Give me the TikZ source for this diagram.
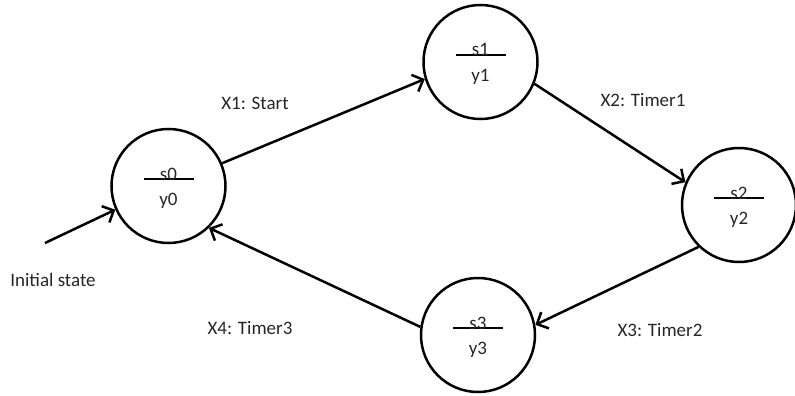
\documentclass[tikz,border=0pt]{standalone}
\usepackage{fontspec}
\setmainfont{Carlito}
\usetikzlibrary{arrows.meta}
\begin{document}
\begin{tikzpicture}[x=1pt,y=1pt,
    every node/.style={font=\fontsize{19}{23}\selectfont,text=black!85},
    state/.style={draw=black,circle,line width=2.5pt,minimum size=114pt,inner sep=0pt},
    trans/.style={line width=2.5pt,-{Straight Barb[length=9pt,width=18pt,line width=2.5pt]}}]
    \useasboundingbox (0,0) rectangle (795,-396);

    \node[state] (s0) at (168.5,-186) {};
    \node[state] (s1) at (480.5,-62) {};
    \node[state] (s2) at (739,-205) {};
    \node[state] (s3) at (478,-335) {};

    % output line and labels inside each state
    \foreach \s/\y in {s0/y0,s1/y1,s2/y2,s3/y3} {
        \draw[line width=2.5pt] ([shift={(-25,7)}]\s.center) -- ++(50,0);
        \node[anchor=base] (\s-name) at ([yshift=6]\s.center) {\s};
        \node (\s-out) at ([yshift=-15]\s.center) {\y};
    }

    \coordinate (init) at (45,-243);
    \draw[trans] (init) -- (s0.204);
    \draw[trans] (s0.23) -- (s1.197);
    \draw[trans] (s1.-22) -- (s2.157);
    \draw[trans] (s2.226) -- (s3.10);
    \draw[trans] (s3.172) -- (s0.-46);

    \node (l-init) at (53,-280) {Initial state};
    \node (l-x1) at (255,-103) {X1: Start};
    \node (l-x2) at (643,-100) {X2: Timer1};
    \node (l-x3) at (660,-330) {X3: Timer2};
    \node (l-x4) at (250,-328) {X4: Timer3};
\end{tikzpicture}
\end{document}
